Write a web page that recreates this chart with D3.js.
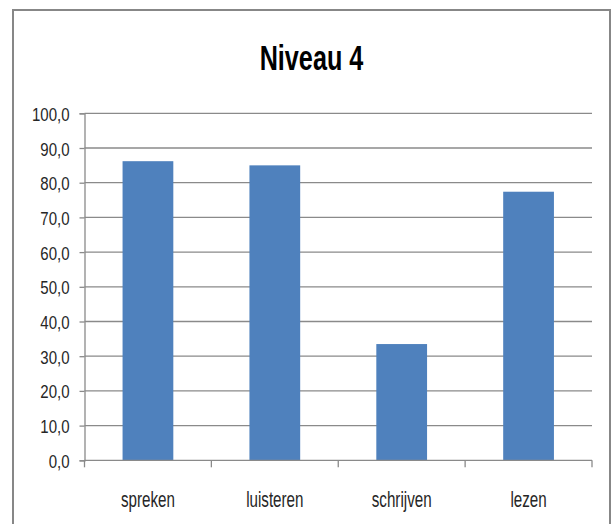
<!DOCTYPE html>
<html>
<head>
<meta charset="utf-8">
<script src="https://cdn.jsdelivr.net/npm/d3@7"></script>
<style>
  html, body { margin: 0; padding: 0; background: #fff; }
  svg { display: block; }
  text { font-family: "Liberation Sans", Arial, sans-serif; }
</style>
</head>
<body>
<script>
const title = "Niveau 4";
const categories = ["spreken", "luisteren", "schrijven", "lezen"];
const values = [86.2, 85.0, 33.5, 77.4];
const yTicks = [0, 10, 20, 30, 40, 50, 60, 70, 80, 90, 100];

const W = 614, H = 524;
const SXY = 0.79; // horizontal compression of y tick labels
const SXC = 0.69; // horizontal compression of category labels

const svg = d3.select("body").append("svg").attr("width", W).attr("height", H);

// chart area border
svg.append("rect")
  .attr("x", 13).attr("y", 10).attr("width", 597).attr("height", 530)
  .attr("fill", "#fff").attr("stroke", "#878787").attr("stroke-width", 2);

const m = { left: 84.5, right: 592, top: 113.3, bottom: 460.3 };

const x = d3.scaleBand().domain(categories).range([m.left, m.right]).paddingInner(0.6).paddingOuter(0.3);
const xb = d3.scaleBand().domain(categories).range([m.left, m.right]);
const y = d3.scaleLinear().domain([0, 100]).range([m.bottom, m.top]);

// gridlines
svg.append("g").selectAll("line").data(yTicks.filter(d => d > 0)).join("line")
  .attr("x1", m.left).attr("x2", m.right)
  .attr("y1", d => y(d)).attr("y2", d => y(d))
  .attr("stroke", "#8a8a8a").attr("stroke-width", 1.3);

// bars
svg.append("g").selectAll("rect").data(categories).join("rect")
  .attr("x", d => x(d)).attr("width", x.bandwidth())
  .attr("y", (d, i) => y(values[i])).attr("height", (d, i) => y(0) - y(values[i]))
  .attr("fill", "#4F81BD");

// y axis
const yAxis = svg.append("g").attr("transform", `translate(${m.left},0)`)
  .call(d3.axisLeft(y).tickValues(yTicks).tickSize(5).tickPadding(10)
    .tickFormat(d => d3.format(".1f")(d).replace(".", ",")));
yAxis.selectAll("path, line").attr("stroke", "#8a8a8a").attr("stroke-width", 1.3);
yAxis.selectAll("text")
  .attr("font-size", 19).attr("fill", "#262626").attr("font-family", "Liberation Sans, Arial, sans-serif")
  .attr("dy", "0.37em")
  .each(function() {
    const t = d3.select(this);
    t.attr("x", +t.attr("x") / SXY).attr("transform", `scale(${SXY},1)`);
  });

// x axis
const xAxis = svg.append("g").attr("transform", `translate(0,${m.bottom})`);
xAxis.append("line").attr("x1", m.left).attr("x2", m.right)
  .attr("stroke", "#8a8a8a").attr("stroke-width", 1.3);
const bounds = categories.map(c => xb(c)).concat([m.right]);
xAxis.selectAll("line.tk").data(bounds).join("line").attr("class", "tk")
  .attr("x1", d => d).attr("x2", d => d).attr("y1", 0).attr("y2", 7)
  .attr("stroke", "#8a8a8a").attr("stroke-width", 1.3);
xAxis.selectAll("text").data(categories).join("text")
  .attr("x", d => (xb(d) + xb.bandwidth() / 2) / SXC)
  .attr("y", 46.5)
  .attr("transform", `scale(${SXC},1)`)
  .attr("text-anchor", "middle")
  .attr("font-size", 22).attr("fill", "#262626")
  .text(d => d);

// title
const TS = 0.72;
svg.append("text")
  .attr("x", 311.5 / TS).attr("y", 70)
  .attr("transform", `scale(${TS},1)`)
  .attr("text-anchor", "middle")
  .attr("font-size", 35).attr("font-weight", "bold").attr("fill", "#000")
  .text(title);
</script>
</body>
</html>
